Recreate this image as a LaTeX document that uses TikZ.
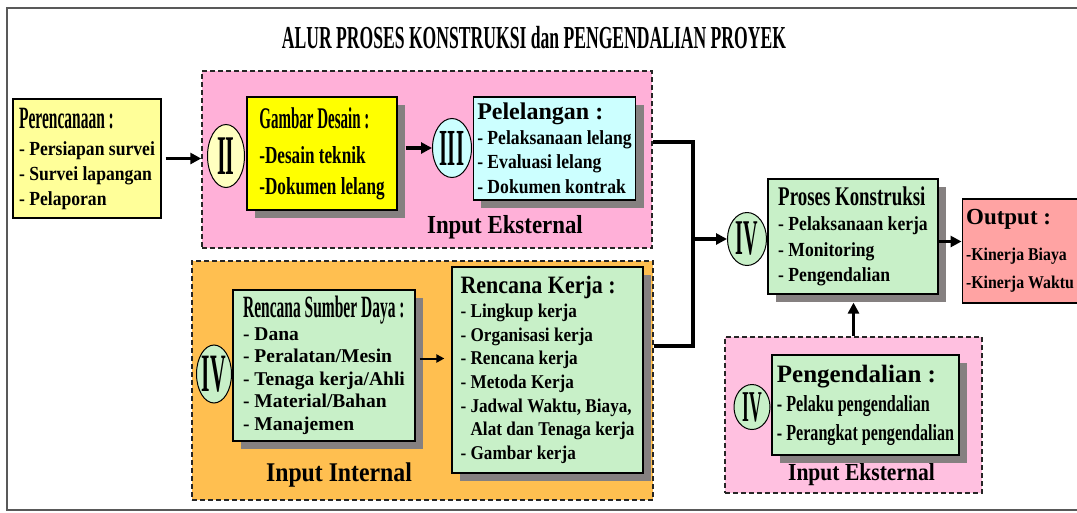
\documentclass[tikz,border=0pt]{standalone}
\usepackage{fontspec}
\setmainfont{Liberation Serif}
\newfontfamily\titlefont[FakeStretch=0.55]{Liberation Serif}
\newfontfamily\headfont[FakeStretch=0.5]{Liberation Serif}
\newfontfamily\midfont[FakeStretch=0.7]{Liberation Serif}
\newfontfamily\itemfont[FakeStretch=0.88]{Liberation Serif}
\newfontfamily\romfont[FakeStretch=0.4]{Liberation Serif}
\usetikzlibrary{positioning,shapes.geometric,shadows,arrows.meta,calc}

\definecolor{planyellow}{HTML}{FFFF99}
\definecolor{designyellow}{HTML}{FFFF00}
\definecolor{tendercyan}{HTML}{CCFFFF}
\definecolor{workgreen}{HTML}{C8F0C8}
\definecolor{outred}{HTML}{FFA3A3}
\definecolor{extpink}{HTML}{FFB0D8}
\definecolor{extpinklight}{HTML}{FFC0E0}
\definecolor{intorange}{HTML}{FFBF50}
\definecolor{shadowgray}{HTML}{858080}
\definecolor{phaseyellow}{HTML}{FFFFC0}

\tikzset{
	region/.style={draw=black!85, line width=1.5pt, dash pattern=on 5pt off 3pt, inner sep=0pt},
	box/.style={draw=black, line width=1.2pt, align=left, inner xsep=4pt, inner ysep=3pt},
	shade/.style={drop shadow={shadow xshift=8pt, shadow yshift=-8pt, fill=shadowgray, opacity=1}},
	phase/.style={ellipse, draw=black, line width=1pt, inner sep=0pt},
	flow/.style={line width=3.5pt, -{Triangle[length=11pt,width=11pt]}},
	thinflow/.style={line width=2pt, -{Triangle[length=8pt,width=8pt]}},
	link/.style={line width=3.5pt},
}

\begin{document}
\begin{tikzpicture}[x=1pt,y=-1pt]
		\useasboundingbox (0,0) rectangle (1077,512);
		\draw[line width=2pt, draw=black!65] (1077,8) -- (7,8) -- (7,510) -- (1077,510);
		\node[font=\titlefont\bfseries\fontsize{32}{32}\selectfont] (title) at (534,38) {ALUR PROSES KONSTRUKSI dan PENGENDALIAN PROYEK};

		% input regions
		\node[region, fill=extpink, minimum width=450pt, minimum height=177pt] (eksA) at (427,159.5) {};
		\node[region, fill=intorange, minimum width=461pt, minimum height=239pt] (intern) at (422.5,380.5) {};
		\node[region, fill=extpinklight, minimum width=257pt, minimum height=156pt] (eksB) at (853.5,415) {};
		\node[font=\itemfont\bfseries\fontsize{26}{26}\selectfont] (labA) at (505,227) {Input Eksternal};
		\node[font=\itemfont\bfseries\fontsize{27}{27}\selectfont] (labI) at (339,475) {Input Internal};
		\node[font=\itemfont\bfseries\fontsize{24.5}{24.5}\selectfont] (labB) at (861.5,475) {Input Eksternal};

		% boxes
		\node[box, fill=planyellow, minimum width=148pt, minimum height=119pt,
			font=\itemfont\bfseries\fontsize{20}{25}\selectfont] (plan) at (87,158.5)
			{{\headfont\fontsize{31}{31}\selectfont Perencanaan :}\\[2pt]
			- Persiapan survei\\ - Survei lapangan\\ - Pelaporan};
		\node[box, shade, fill=designyellow, minimum width=150pt, minimum height=113pt,
			font=\midfont\bfseries\fontsize{24.5}{31}\selectfont] (gambar) at (322,153.5)
			{{\headfont\fontsize{30}{30}\selectfont Gambar Desain :}\\[4pt]
			-Desain teknik\\ -Dokumen lelang};
		\node[box, shade, fill=tendercyan, minimum width=161pt, minimum height=103pt,
			font=\itemfont\bfseries\fontsize{20}{24.5}\selectfont] (lelang) at (554.5,148.5)
			{{\rmfamily\fontsize{24}{24}\selectfont Pelelangan :}\\
			- Pelaksanaan lelang\\ - Evaluasi lelang\\ - Dokumen kontrak};
		\node[box, shade, fill=workgreen, minimum width=170pt, minimum height=115pt,
			font=\itemfont\bfseries\fontsize{20}{25.5}\selectfont] (proses) at (853,236.5)
			{{\midfont\fontsize{27}{27}\selectfont Proses Konstruksi}\\
			- Pelaksanaan kerja\\ - Monitoring\\ - Pengendalian};
		\node[box, fill=outred, minimum width=110pt, minimum height=104pt,
			font=\itemfont\bfseries\fontsize{18}{28}\selectfont] (output) at (1020,251)
			{{\rmfamily\fontsize{23}{23}\selectfont Output :}\\[8pt]
			-Kinerja Biaya\\ -Kinerja Waktu};
		\node[box, shade, fill=workgreen, minimum width=182pt, minimum height=151pt,
			font=\bfseries\fontsize{19.5}{22.5}\selectfont] (sumber) at (324,365.5)
			{{\headfont\fontsize{31}{31}\selectfont Rencana Sumber Daya :}\\
			- Dana\\ - Peralatan/Mesin\\ - Tenaga kerja/Ahli\\ - Material/Bahan\\ - Manajemen};
		\node[box, shade, fill=workgreen, minimum width=191pt, minimum height=206pt,
			font=\itemfont\bfseries\fontsize{19.5}{23.7}\selectfont] (kerja) at (547.5,370)
			{{\fontsize{25}{25}\selectfont Rencana Kerja :}\\
			- Lingkup kerja\\ - Organisasi kerja\\ - Rencana kerja\\ - Metoda Kerja\\
			- Jadwal Waktu, Biaya,\\ \phantom{- }Alat dan Tenaga kerja\\ - Gambar kerja};
		\node[box, shade, fill=workgreen, minimum width=187pt, minimum height=100pt,
			font=\midfont\bfseries\fontsize{23}{29}\selectfont] (kendali) at (865.5,405)
			{{\rmfamily\fontsize{25}{25}\selectfont Pengendalian :}\\
			- Pelaku pengendalian\\ - Perangkat pengendalian};

		% phase marks
		\node[phase, fill=phaseyellow, minimum width=37pt, minimum height=63pt,
			font=\romfont\bfseries\fontsize{56}{56}\selectfont] (ph2) at (226,156) {II};
		\node[phase, fill=tendercyan, minimum width=39pt, minimum height=59pt,
			font=\romfont\bfseries\fontsize{52}{52}\selectfont] (ph3) at (452,148) {III};
		\node[phase, fill=workgreen, minimum width=39pt, minimum height=53pt,
			font=\romfont\bfseries\fontsize{50}{50}\selectfont] (ph4a) at (747,239) {IV};
		\node[phase, fill=workgreen, minimum width=35pt, minimum height=58pt,
			font=\romfont\bfseries\fontsize{54}{54}\selectfont] (ph4b) at (214,374) {IV};
		\node[phase, fill=workgreen, minimum width=36pt, minimum height=45pt,
			font=\romfont\bfseries\fontsize{44}{44}\selectfont] (ph4c) at (752,407) {IV};

		% connectors
		\coordinate (jt) at (693,142);
		\coordinate (jb) at (693,346);
		\draw[link] (jt -| eksA.east) -- (jt) -- (jb) -- (jb -| intern.east);
		\draw[flow] (ph4a.west -| jt) -- (ph4a.west);
		\draw[flow, shorten <=4pt] (plan.east) -- (plan.east -| eksA.west);
		\draw[flow, shorten <=8pt] (gambar.east |- ph3.west) -- (ph3.west);
		\coordinate (po) at ([yshift=-5pt]proses.east);
		\draw[flow] (po) -- (po -| output.west);
		\draw[flow, shorten >=8pt] (eksB.north) -- (eksB.north |- proses.south);
		\coordinate (sk) at ([yshift=7pt]sumber.east);
		\draw[thinflow, shorten <=4pt, shorten >=7pt] (sk) -- (sk -| kerja.west);
	\end{tikzpicture}
\end{document}
